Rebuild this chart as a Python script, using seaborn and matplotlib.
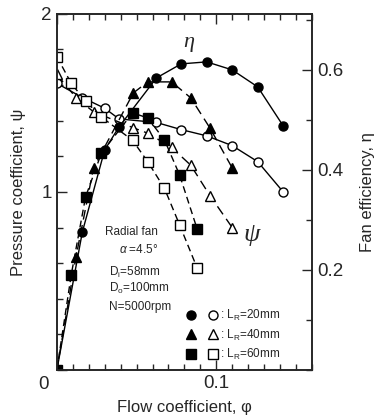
import matplotlib
matplotlib.use("Agg")
import matplotlib.pyplot as plt
import seaborn as sns
from matplotlib.lines import Line2D
from matplotlib.legend_handler import HandlerTuple
from matplotlib.ticker import MultipleLocator

# flow coefficient / pressure coefficient / efficiency for each rotor length
phi_20 = [0.0, 0.016, 0.030, 0.039, 0.0625, 0.078, 0.094, 0.110, 0.126, 0.142]
psi_20 = [1.61, 1.53, 1.47, 1.41, 1.39, 1.35, 1.315, 1.26, 1.17, 1.00]
eta_20 = [0.0, 0.276, 0.44, 0.486, 0.584, 0.612, 0.616, 0.60, 0.566, 0.488]

phi_40 = [0.0, 0.012, 0.023, 0.048, 0.057, 0.072, 0.084, 0.096, 0.110]
psi_40 = [1.66, 1.53, 1.45, 1.36, 1.33, 1.25, 1.15, 0.98, 0.80]
eta_40 = [0.0, 0.226, 0.404, 0.554, 0.576, 0.576, 0.544, 0.484, 0.404]

phi_60 = [0.0, 0.009, 0.018, 0.028, 0.0475, 0.057, 0.0675, 0.077, 0.088]
psi_60 = [1.76, 1.61, 1.51, 1.42, 1.29, 1.17, 1.02, 0.815, 0.573]
eta_60 = [0.0, 0.19, 0.346, 0.434, 0.514, 0.504, 0.46, 0.39, 0.282]

labels = [": L$_\\mathrm{R}$=20mm", ": L$_\\mathrm{R}$=40mm", ": L$_\\mathrm{R}$=60mm"]

sns.set_style("ticks")
plt.rcParams["font.family"] = ["Liberation Sans", "DejaVu Sans"]
plt.rcParams["mathtext.fontset"] = "custom"
plt.rcParams["mathtext.rm"] = "Liberation Sans"
plt.rcParams["mathtext.it"] = "Liberation Sans:italic"

fig, ax = plt.subplots(figsize=(3.79, 4.2), dpi=100)
fig.subplots_adjust(left=0.150, right=0.823, bottom=0.119, top=0.967)
ax2 = ax.twinx()

styles = [("o", "-"), ("^", (0, (7, 4))), ("s", (0, (5, 3)))]
series = [(phi_20, psi_20, eta_20), (phi_40, psi_40, eta_40), (phi_60, psi_60, eta_60)]
for (mk, ls), (ph, ps, et) in zip(styles, series):
    sns.lineplot(x=ph, y=ps, ax=ax, color="black", linestyle=ls, lw=1.0,
                 marker=mk, markersize=6.5, markerfacecolor="white",
                 markeredgecolor="black", markeredgewidth=1.0)
    sns.lineplot(x=ph, y=et, ax=ax2, color="black", linestyle=ls, lw=1.0,
                 marker=mk, markersize=6.5, markerfacecolor="black",
                 markeredgecolor="black", markeredgewidth=1.0)

ax.set_xlim(0, 0.16)
ax.set_ylim(0, 2)
ax2.set_ylim(0, 0.712)

ax.set_xticks([0, 0.1])
ax.set_xticklabels(["", "0.1"])
ax.xaxis.set_minor_locator(MultipleLocator(0.01))
ax.set_yticks([0, 1, 2])
ax.set_yticklabels(["", "1", "2"])
ax.yaxis.set_minor_locator(MultipleLocator(0.2))
ax2.set_yticks([0.2, 0.4, 0.6])
ax2.set_yticklabels(["0.2", "0.4", "0.6"])
ax2.yaxis.set_minor_locator(MultipleLocator(0.1))

ax.tick_params(which="both", direction="in", top=True, labelsize=13.5, width=1.0)
ax.tick_params(which="major", length=7)
ax.tick_params(which="minor", length=4)
ax2.tick_params(which="both", direction="in", labelsize=13.5, width=1.0)
ax2.tick_params(which="major", length=7)
ax2.tick_params(which="minor", length=4)
for a in (ax, ax2):
    for s in a.spines.values():
        s.set_linewidth(1.2)
        s.set_visible(True)

ax.text(-0.03, -0.04, "0", transform=ax.transAxes, fontsize=13.5,
        ha="right", va="center")

ax.set_xlabel("Flow coefficient, φ", fontsize=12, labelpad=6)
ax.set_ylabel("Pressure coefficient, ψ", fontsize=12, labelpad=11)
ax2.set_ylabel("Fan efficiency, η", fontsize=12, labelpad=12)

ax.text(0.083, 1.84, "η", fontsize=16, style="italic", family="Liberation Serif",
        ha="center", va="center")
ax.text(0.122, 0.76, "ψ", fontsize=19, style="italic", family="Liberation Serif",
        ha="center", va="center")

info = ["Radial fan", "$\\alpha$ =4.5°", "D$_\\mathrm{i}$=58mm",
        "D$_\\mathrm{o}$=100mm", "N=5000rpm"]
ys = [0.775, 0.674, 0.55, 0.46, 0.354]
xs = [0.030, 0.039, 0.033, 0.033, 0.033]
for t, x, y in zip(info, xs, ys):
    ax.text(x, y, t, fontsize=8.5, ha="left", va="center")

handles = []
for mk in ["o", "^", "s"]:
    filled = Line2D([], [], ls="none", marker=mk, color="black", ms=6.5)
    hollow = Line2D([], [], ls="none", marker=mk, mfc="white", mec="black", ms=6.5)
    handles.append((filled, hollow))
ax.legend(handles, labels, handler_map={tuple: HandlerTuple(ndivide=None, pad=1.2)},
          loc="lower left", bbox_to_anchor=(0.49, 0.01), frameon=False,
          fontsize=8.5, handlelength=2.6, handletextpad=0.2, labelspacing=0.35,
          borderaxespad=0.0)

fig.savefig("out.png", dpi=100)
